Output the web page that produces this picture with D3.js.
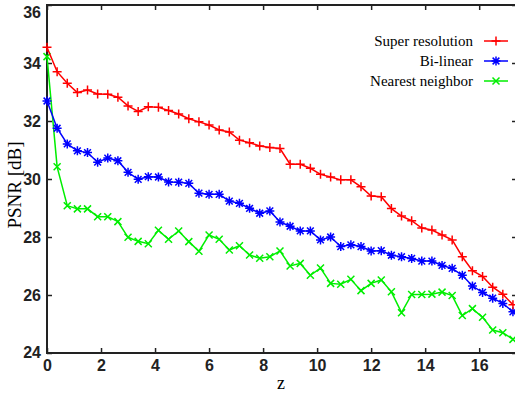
<!DOCTYPE html>
<html>
<head>
<meta charset="utf-8">
<script src="https://cdn.jsdelivr.net/npm/d3@7"></script>
<style>
body { margin: 0; background: #fff; }
svg { display: block; }
.tick text { font-family: "Liberation Sans", Arial, sans-serif; font-weight: bold; font-size: 16px; fill: #222; }
.tick line { stroke: #222; stroke-width: 1.5; }
</style>
</head>
<body>
<div id="chart"></div>
<script>
var W = 515, H = 395;
var margin = { top: 5, right: -2, bottom: 42, left: 47 };

// z positions
var zStep = 0.375;
var nPts = 47;

// PSNR [dB]
var superRes = [34.54, 33.70, 33.30, 32.98, 33.07, 32.93, 32.92, 32.82, 32.52, 32.33,
    32.49, 32.47, 32.36, 32.24, 32.08, 31.97, 31.86, 31.69, 31.62, 31.34,
    31.25, 31.14, 31.09, 31.05, 30.51, 30.51, 30.37, 30.16, 30.07, 29.97,
    29.97, 29.73, 29.41, 29.39, 28.98, 28.72, 28.56, 28.31, 28.24, 28.07,
    27.90, 27.32, 26.84, 26.64, 26.27, 26.03, 25.66];
var bilinear = [32.69, 31.75, 31.21, 30.97, 30.91, 30.58, 30.72, 30.63, 30.23, 29.99,
    30.08, 30.07, 29.90, 29.89, 29.85, 29.51, 29.47, 29.47, 29.24, 29.16,
    28.99, 28.82, 28.90, 28.52, 28.37, 28.21, 28.21, 27.90, 28.00, 27.67,
    27.73, 27.67, 27.52, 27.53, 27.37, 27.32, 27.26, 27.17, 27.17, 27.02,
    26.92, 26.68, 26.31, 26.09, 25.89, 25.71, 25.42];
var nearest = [34.22, 30.42, 29.08, 28.97, 28.97, 28.70, 28.70, 28.53, 27.99, 27.85,
    27.77, 28.23, 27.92, 28.21, 27.84, 27.51, 28.07, 27.92, 27.55, 27.70,
    27.38, 27.27, 27.32, 27.52, 27.00, 27.09, 26.68, 26.93, 26.40, 26.37,
    26.54, 26.15, 26.40, 26.52, 26.11, 25.39, 26.02, 26.02, 26.03, 26.10,
    25.98, 25.29, 25.53, 25.23, 24.79, 24.70, 24.47];

var seriesNames = ["Super resolution", "Bi-linear", "Nearest neighbor"];
var seriesColors = ["#ff0000", "#0000ff", "#00ee00"];
var seriesMarks = ["plus", "star", "cross"];
var xTicks = [0, 2, 4, 6, 8, 10, 12, 14, 16];
var yTicks = [24, 26, 28, 30, 32, 34, 36];

var width = W - margin.left - margin.right,
    height = H - margin.top - margin.bottom;

var svg = d3.select("#chart").append("svg")
    .attr("width", W)
    .attr("height", H);

var g = svg.append("g")
    .attr("transform", "translate(" + margin.left + "," + margin.top + ")");

var x = d3.scaleLinear().domain([0, 17.4]).range([0, width]);
var y = d3.scaleLinear().domain([24, 36]).range([height, 0]);

// axes, ticks pointing in
g.append("g")
    .attr("transform", "translate(0," + height + ")")
    .call(d3.axisBottom(x).tickValues(xTicks).tickSize(-5).tickSizeOuter(0).tickPadding(7))
    .call(function (a) { a.select(".domain").remove(); });
g.append("g")
    .call(d3.axisTop(x).tickValues(xTicks).tickSize(-5).tickSizeOuter(0).tickFormat(""))
    .call(function (a) { a.select(".domain").remove(); });
g.append("g")
    .call(d3.axisLeft(y).tickValues(yTicks).tickSize(-5).tickSizeOuter(0).tickPadding(6))
    .call(function (a) { a.select(".domain").remove(); });
g.append("g")
    .attr("transform", "translate(" + width + ",0)")
    .call(d3.axisRight(y).tickValues(yTicks).tickSize(-5).tickSizeOuter(0).tickFormat(""))
    .call(function (a) { a.select(".domain").remove(); });

g.selectAll(".tick text").filter(function (d) { return d === 24; }).attr("dy", "0.25em");
g.selectAll(".tick text").filter(function (d) { return d === 36; }).attr("dy", "0.75em");

g.append("rect")
    .attr("width", width)
    .attr("height", height)
    .attr("fill", "none")
    .attr("stroke", "#222")
    .attr("stroke-width", 2);

// axis titles
svg.append("text")
    .attr("transform", "translate(21," + (margin.top + 180) + ") rotate(-90)")
    .attr("text-anchor", "middle")
    .style("font-family", "'Liberation Serif', 'Times New Roman', serif")
    .style("font-size", "19px")
    .text("PSNR [dB]");
svg.append("text")
    .attr("x", 281)
    .attr("y", 389)
    .attr("text-anchor", "middle")
    .style("font-family", "'Liberation Serif', 'Times New Roman', serif")
    .style("font-size", "18px")
    .text("z");

function marker(sel, kind, s) {
    var p;
    if (kind == "plus") p = "M" + (-s) + ",0H" + s + "M0," + (-s) + "V" + s;
    else if (kind == "cross") p = "M" + (-s) + "," + (-s) + "L" + s + "," + s + "M" + (-s) + "," + s + "L" + s + "," + (-s);
    else {
        var t = s * 0.75;
        p = "M" + (-s) + ",0H" + s + "M0," + (-s) + "V" + s +
            "M" + (-t) + "," + (-t) + "L" + t + "," + t + "M" + (-t) + "," + t + "L" + t + "," + (-t);
    }
    sel.append("path").attr("d", p);
}

var allSeries = [superRes, bilinear, nearest];
var line = d3.line()
    .x(function (d, i) { return x(i * zStep); })
    .y(function (d) { return y(d); });

var plot = g.append("g");
// draw nearest first so red ends on top
[2, 1, 0].forEach(function (k) {
    var data = allSeries[k].slice(0, nPts);
    var sg = plot.append("g")
        .attr("stroke", seriesColors[k])
        .attr("fill", "none")
        .attr("stroke-width", 1.5);
    sg.append("path").attr("d", line(data));
    sg.selectAll("g.m")
        .data(data)
        .enter().append("g")
        .attr("class", "m")
        .attr("transform", function (d, i) { return "translate(" + x(i * zStep) + "," + y(d) + ")"; })
        .each(function () { marker(d3.select(this), seriesMarks[k], k == 2 ? 3.5 : 4.5); });
});

// legend
var legend = svg.append("g");
seriesNames.forEach(function (name, k) {
    var ly = 41 + k * 20;
    legend.append("text")
        .attr("x", 473)
        .attr("y", ly)
        .attr("dy", "0.35em")
        .attr("text-anchor", "end")
        .style("font-family", "'Liberation Serif', 'Times New Roman', serif")
        .style("font-size", "15px")
        .text(name);
    var lg = legend.append("g")
        .attr("stroke", seriesColors[k])
        .attr("fill", "none")
        .attr("stroke-width", 1.5);
    lg.append("line").attr("x1", 484).attr("x2", 508).attr("y1", ly).attr("y2", ly);
    var mg = lg.append("g").attr("transform", "translate(496," + ly + ")");
    marker(mg, seriesMarks[k], k == 2 ? 3.5 : 4.5);
});
</script>
</body>
</html>
